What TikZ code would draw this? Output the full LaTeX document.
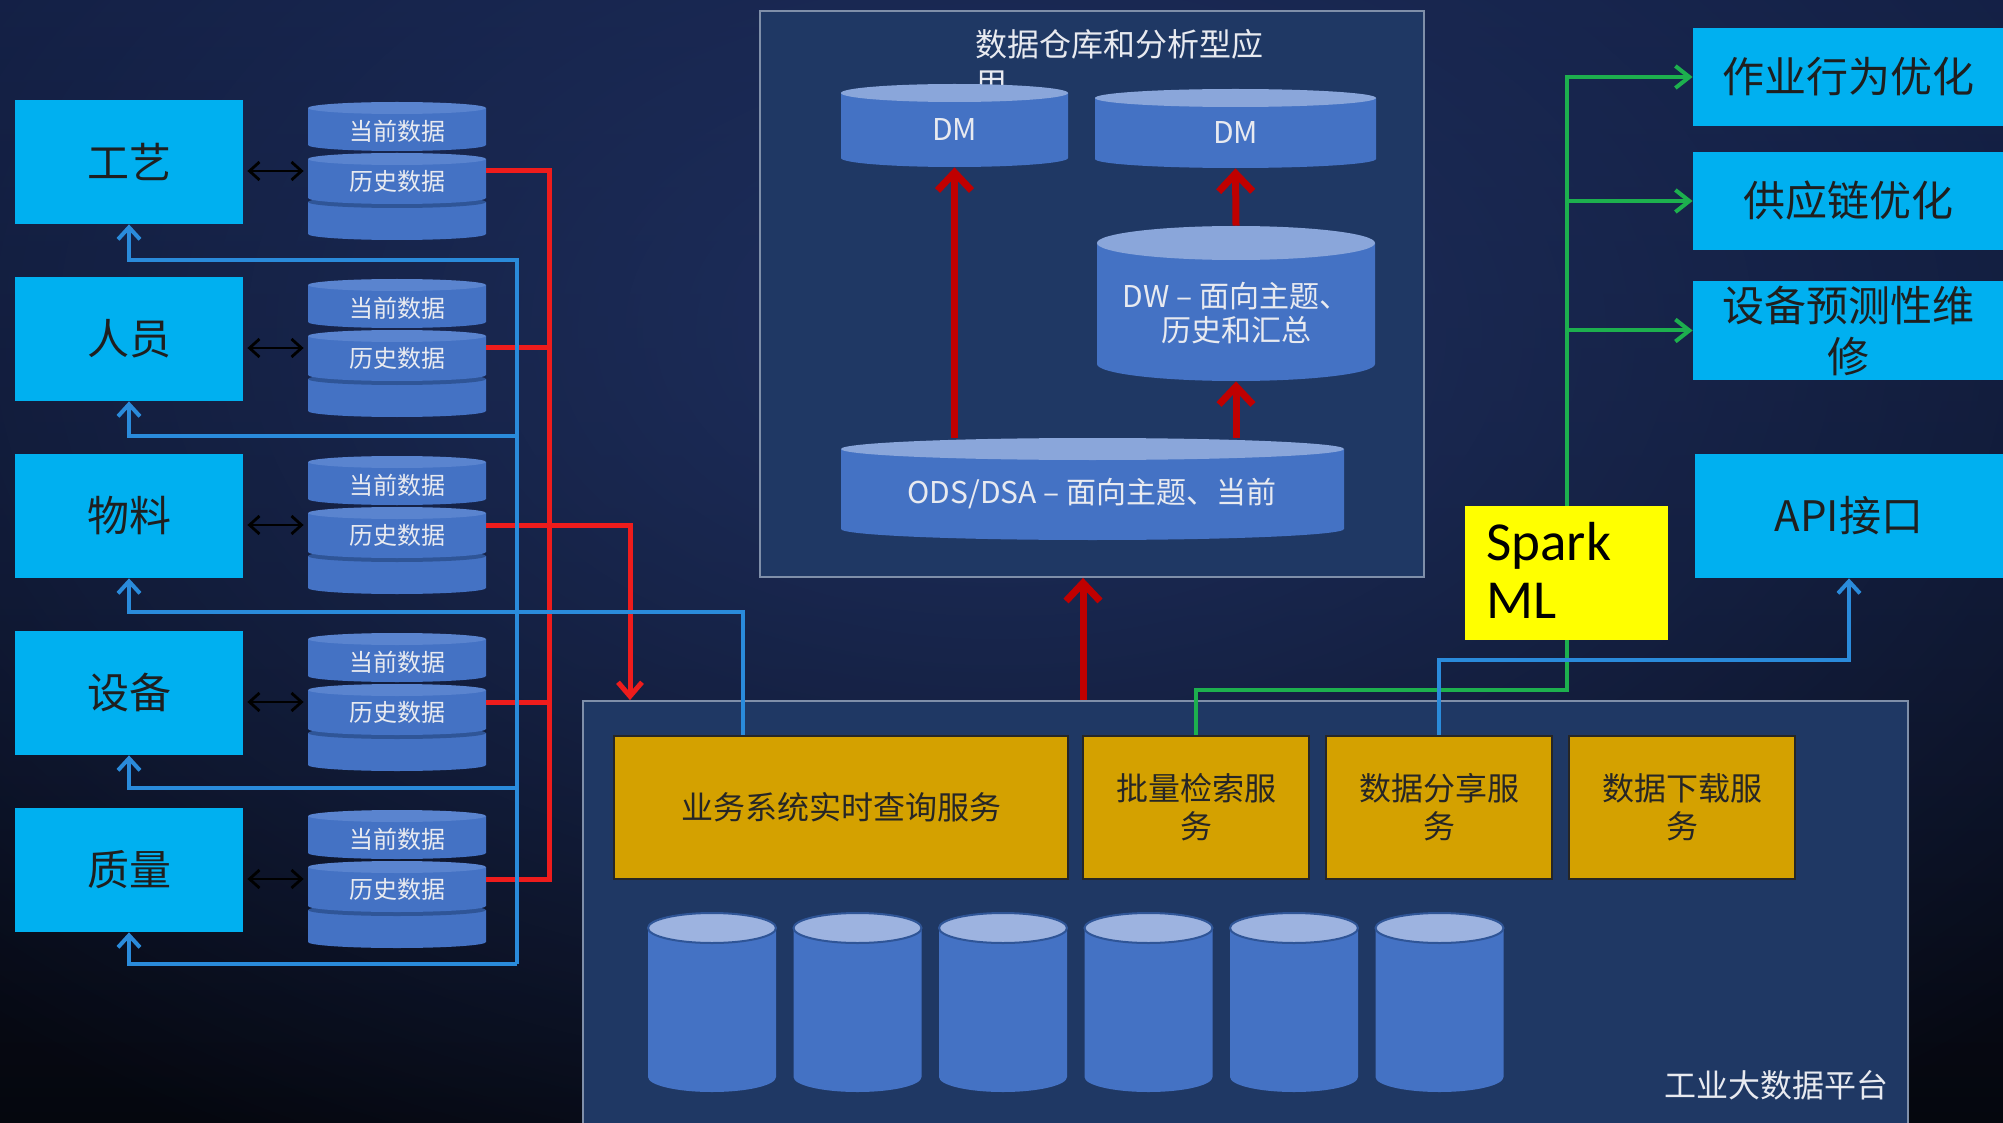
\documentclass[tikz,border=0pt]{standalone}
\usepackage{fontspec}
\setmainfont{Noto Sans CJK SC}
\newfontfamily\sparkfont{Carlito}
\usetikzlibrary{arrows.meta,fit,fadings}
\definecolor{bgTop}{HTML}{111C3E}
\definecolor{bgBot}{HTML}{05070E}
\definecolor{bgGlow}{HTML}{1E2F5E}
\definecolor{cyanbox}{HTML}{00B0F0}
\definecolor{goldbox}{HTML}{D4A100}
\definecolor{cylA}{HTML}{4472C4}
\definecolor{cylTopS}{HTML}{5A84CF}
\definecolor{cylLine}{HTML}{2F5597}
\definecolor{cylTopL}{HTML}{8AA6DA}
\definecolor{cylTopB}{HTML}{9DB3E0}
\definecolor{panel}{HTML}{1F3864}
\definecolor{panelB}{HTML}{7F8FA9}
\definecolor{redA}{HTML}{EE1C1C}
\definecolor{redB}{HTML}{C00000}
\definecolor{blueA}{HTML}{2A8BDB}
\definecolor{greenA}{HTML}{1DB04E}
\definecolor{titleC}{HTML}{E8EAF0}
\definecolor{sparkY}{HTML}{FFFF00}
\tikzfading[name=glowfade, inner color=transparent!0, outer color=transparent!100]
\newcommand{\fs}[2]{\fontsize{#1}{#2}\selectfont}
% x1, y1, x2, y2, ry, body colour, top colour
\newcommand{\cylshape}[7]{%
  \pgfmathsetmacro\cxa{(#1+#3)/2}%
  \pgfmathsetmacro\rxa{(#3-#1)/2}%
  \pgfmathsetmacro\yta{#2+#5}%
  \pgfmathsetmacro\yba{#4-#5}%
  \fill[#6] (#1,\yta) -- (#1,\yba) arc[start angle=180,end angle=0,x radius=\rxa,y radius=#5] -- (#3,\yta) -- cycle;
  \fill[#7] (\cxa,\yta) ellipse[x radius=\rxa,y radius=#5];
}
\tikzset{
  cbox/.style={fill=cyanbox, inner sep=0pt},
  gbox/.style={fill=goldbox, draw=black!85, line width=1pt, inner sep=0pt},
  btext/.style={text=black!88, align=center, inner sep=0pt},
  gtext/.style={text=black!85, align=center, inner sep=0pt, font=\fs{16}{19}},
  panelbox/.style={fill=panel, draw=panelB, line width=0.9pt, inner sep=0pt},
  ctext/.style={text=titleC, align=center, inner sep=0pt},
  area/.style={inner sep=0pt},
  redl/.style={draw=redA, line width=2.5pt, line join=miter},
  reda/.style={redl, -{Straight Barb[length=7pt,width=12pt]}},
  dra/.style={draw=redB, line width=3.5pt, -{Straight Barb[length=9pt,width=17pt]}},
  bl/.style={draw=blueA, line width=2pt},
  bla/.style={bl, -{Straight Barb[length=6pt,width=11pt]}},
  gl/.style={draw=greenA, line width=2pt},
  ga/.style={gl, -{Straight Barb[length=7pt,width=11pt]}},
  bk/.style={draw=black, line width=1.4pt, {Straight Barb[length=5pt,width=9pt]}-{Straight Barb[length=5pt,width=9pt]}, shorten <=2pt, shorten >=2pt},
}
\begin{document}
\begin{tikzpicture}[x=0.5pt,y=-0.5pt]
\useasboundingbox (0,0) rectangle (2003,1123);
\shade[top color=bgTop, bottom color=bgBot] (0,0) rectangle (2003,1123);
\begin{scope}
  \clip (0,0) rectangle (2003,1123);
  \fill[bgGlow, path fading=glowfade] (1000,330) ellipse[x radius=1500, y radius=950];
\end{scope}

% ---------- data warehouse panel ----------
\node[panelbox, fit={(760,11) (1424,577)}] (dwbox) {};
\node[anchor=north west, inner sep=0pt, align=left, text=titleC, font=\fs{16}{19.5}] (dwtitle) at (975,29) {数据仓库和分析型应\\用};
\cylshape{841}{84}{1068}{167}{9}{cylA}{cylTopL}
\node[area, fit={(841,84) (1068,167)}] (dm1) {};
\node[ctext, font=\fs{15}{17}] (dm1t) at (954.5,130) {DM};
\cylshape{1095}{89}{1376}{168}{9}{cylA}{cylTopL}
\node[area, fit={(1095,89) (1376,168)}] (dm2) {};
\node[ctext, font=\fs{15}{17}] (dm2t) at (1235.5,133) {DM};
\cylshape{1097}{226}{1375}{381}{17}{cylA}{cylTopL}
\node[area, fit={(1097,226) (1375,381)}] (dw) {};
\node[ctext, font=\fs{15}{17}] (dwt) at (1236,313) {DW – 面向主题、\\历史和汇总};
\cylshape{841}{438}{1344}{540}{11}{cylA}{cylTopL}
\node[area, fit={(841,438) (1344,540)}] (ods) {};
\node[ctext, font=\fs{15}{17}] (odst) at (1092,494) {ODS/DSA – 面向主题、当前};
\draw[dra] (ods.north -| dm1.south) -- (dm1.south);
\draw[dra] (dw.north) -- (dm2.south);
\draw[dra] (ods.north -| dw.south) -- (dw.south);

% ---------- platform ----------
\node[panelbox, fit={(583,701) (1908,1140)}] (plat) {};
\node[gbox, fit={(614,736) (1068,879)}] (q1) {};
\node[gbox, fit={(1083,736) (1309,879)}] (q2) {};
\node[gbox, fit={(1326,736) (1552,879)}] (q3) {};
\node[gbox, fit={(1569,736) (1795,879)}] (q4) {};
\node[gtext] (q1t) at (q1.center) {业务系统实时查询服务};
\node[gtext] (q2t) at (q2.center) {批量检索服\\务};
\node[gtext] (q3t) at (q3.center) {数据分享服\\务};
\node[gtext] (q4t) at (q4.center) {数据下载服\\务};
\foreach \k in {0,...,5}{
  \pgfmathsetmacro\xa{648+145.5*\k}
  \pgfmathsetmacro\xb{\xa+128}
  \pgfmathsetmacro\xc{\xa+64}
  \cylshape{\xa}{913}{\xb}{1092}{15}{cylA}{cylTopB}
  \draw[cylLine, line width=1pt] (\xc,928) ellipse[x radius=64, y radius=15];
  \node[area, fit={(\xa,913) (\xb,1092)}] (db\k) {};
}
\node[ctext, font=\fs{16}{19}] (platt) at (1776,1085) {工业大数据平台};

% ---------- left side ----------
\coordinate (rbus) at (549,0);
\coordinate (rd) at (630,0);
\coordinate (bxc) at (743,0);
\foreach \g/\t in {1/工艺,2/人员,3/物料,4/设备,5/质量}{
  \pgfmathsetmacro\off{(\g-1)*177}
  \node[cbox, fit={(15,100+\off) (243,224+\off)}] (b\g) {};
  \node[btext, font=\fs{21}{25}] (b\g t) at (b\g.center) {\t};
  \cylshape{308}{196+\off}{486}{240+\off}{6}{cylA}{cylLine}
  \cylshape{308}{153+\off}{486}{204+\off}{6}{cylA}{cylTopS}
  \cylshape{308}{102+\off}{486}{151+\off}{6}{cylA}{cylTopS}
  \node[area, fit={(308,102+\off) (486,240+\off)}] (st\g) {};
  \node[ctext, font=\fs{12}{14}] (cur\g) at (397,131+\off) {当前数据};
  \node[ctext, font=\fs{12}{14}] (his\g) at (397,181+\off) {历史数据};
  \draw[bk] (b\g.east |- st\g.west) -- (st\g.west);
  \coordinate (bj\g) at (517,{260+176*(\g-1)});
}
% red lines
\draw[redl] (st1.east) -- (st1.east -| rbus) -- (st5.east -| rbus) -- (st5.east);
\draw[redl] (st2.east) -- (st2.east -| rbus);
\draw[redl] (st4.east) -- (st4.east -| rbus);
\draw[reda] (st3.east) -| (plat.north -| rd);
% blue lines
\draw[bla] (bj5) -- (bj1) -| (b1.south);
\draw[bla] (bj2) -| (b2.south);
\draw[bla] (q1.north -| bxc) |- (bj3) -| (b3.south);
\draw[bla] (bj4) -| (b4.south);
\draw[bla] (bj5) -| (b5.south);

% ---------- right side ----------
\node[cbox, fit={(1693,28) (2003,126)}] (r1) {};
\node[cbox, fit={(1693,152) (2003,250)}] (r2) {};
\node[cbox, fit={(1693,281) (2003,380)}] (r3) {};
\node[cbox, fit={(1695,454) (2003,578)}] (api) {};
\node[btext, font=\fs{21}{25}] (r1t) at (r1.center) {作业行为优化};
\node[btext, font=\fs{21}{25}] (r2t) at (r2.center) {供应链优化};
\node[btext, font=\fs{21}{25.5}] (r3t) at (r3.center) {设备预测性维\\修};
\node[btext, font=\fs{21}{25}] (apit) at (api.center) {API接口};
\node[fill=sparkY, inner sep=0pt, fit={(1465,506) (1668,640)}] (spark) {};
\node[anchor=north west, inner sep=0pt, align=left, text=black, font=\sparkfont\fs{27.5}{29}] (sparkt) at (1486,522) {Spark\\ML};

\coordinate (gy) at (0,690);
\coordinate (by) at (0,660);
\coordinate (rx) at (1083,0);
\draw[ga] (spark.north) |- (r1.west);
\draw[ga] (spark.north) |- (r2.west);
\draw[ga] (spark.north) |- (r3.west);
\draw[gl] (spark.south) -- (spark.south |- gy) -| (q2.north);
\draw[bla] (q3.north) -- (q3.north |- by) -| (api.south);
\draw[dra] (plat.north -| rx) -- (dwbox.south -| rx);
\end{tikzpicture}
\end{document}
